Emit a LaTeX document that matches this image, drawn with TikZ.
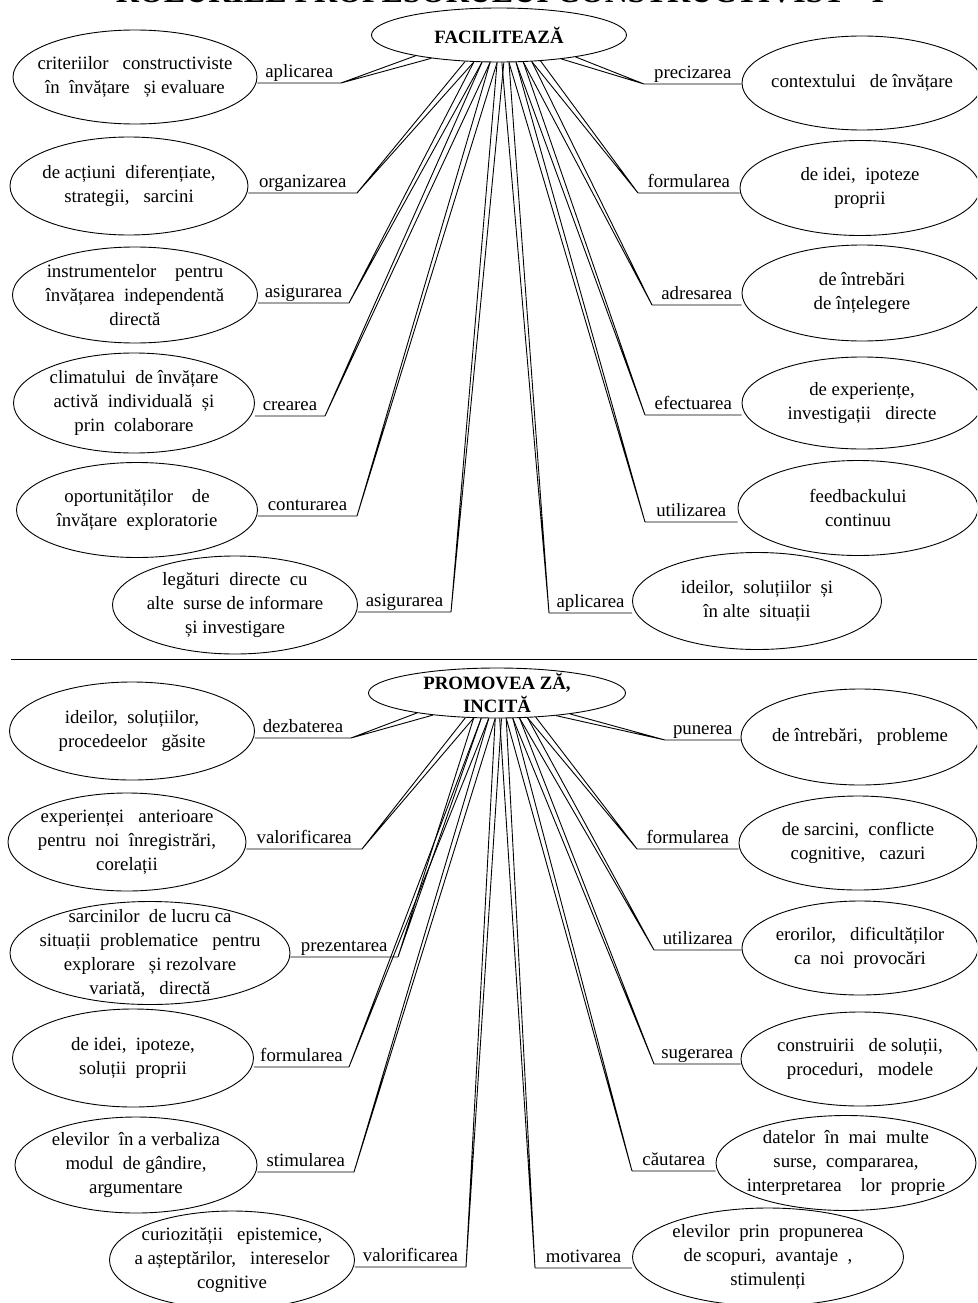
\documentclass[tikz,border=0pt]{standalone}
\usepackage{fontspec}
\setmainfont{Liberation Serif}
\usetikzlibrary{shapes.geometric}
\tikzset{
  leaf/.style={draw, ellipse, line width=0.9pt, inner xsep=-60pt, inner ysep=-40pt,
               align=center, font=\fontsize{18.8pt}{24pt}\selectfont},
  hub/.style={draw, ellipse, line width=0.9pt, inner xsep=-60pt, inner ysep=-40pt,
              align=center, font=\bfseries\fontsize{18.8pt}{23pt}\selectfont},
  lbl/.style={above, inner sep=1.5pt, text depth=4pt, font=\fontsize{18.8pt}{24pt}\selectfont},
  conn/.style={line width=0.9pt}
}

\begin{document}
\begin{tikzpicture}[x=1pt, y=-1pt]
    \useasboundingbox (0,0) rectangle (977,1303);
    \clip (0,0) rectangle (977,1303);
    \node[anchor=base, font=\bfseries\fontsize{32pt}{32pt}\selectfont] (title) at (500,3)
         {ROLURILE PROFESORULUI CONSTRUCTIVIST - I};

    \node[hub, minimum width=255pt, minimum height=54pt] (fac) at (499,35) {FACILITEAZĂ};
    \node[hub, minimum width=257pt, minimum height=50pt] (pro) at (497,693) {PROMOVEA ZĂ,\\ INCITĂ};

    \node[leaf, minimum width=244pt, minimum height=94pt] (l1) at (135,77)
         {criteriilor~~~constructiviste\\ în~~învățare~~~și evaluare};
    \node[leaf, minimum width=238pt, minimum height=98pt] (l2) at (129,186)
         {de acțiuni~~diferențiate,\\ strategii,~~~sarcini};
    \node[leaf, minimum width=245pt, minimum height=96pt] (l3) at (135,295)
         {instrumentelor~~~~pentru\\ învățarea~~independentă\\ directă};
    \node[leaf, minimum width=241pt, minimum height=100pt] (l4) at (134,403)
         {climatului~~de învățare\\ activă~~individuală~~și\\ prin~~colaborare};
    \node[leaf, minimum width=241pt, minimum height=95pt] (l5) at (137,510)
         {oportunităților~~~~de\\ învățare~~exploratorie};
    \node[leaf, minimum width=245pt, minimum height=98pt] (l6) at (235,605)
         {legături~~directe~~cu\\ alte~~surse de informare\\ și investigare};

    \node[leaf, minimum width=240pt, minimum height=94pt] (r1) at (862,83)
         {contextului~~~de învățare};
    \node[leaf, minimum width=240pt, minimum height=95pt] (r2) at (860,188)
         {de idei,~~ipoteze\\ proprii};
    \node[leaf, minimum width=240pt, minimum height=96pt] (r3) at (862,293)
         {de întrebări\\ de înțelegere};
    \node[leaf, minimum width=240pt, minimum height=92pt] (r4) at (862,403)
         {de experiențe,\\ investigații~~~directe};
    \node[leaf, minimum width=240pt, minimum height=95pt] (r5) at (858,508)
         {feedbackului\\ continuu};
    \node[leaf, minimum width=249pt, minimum height=97pt] (r6) at (757,601)
         {ideilor,~~soluțiilor~~și\\ în alte~~situații};

    \node[leaf, minimum width=245pt, minimum height=98pt] (ll1) at (132,731)
         {ideilor,~~soluțiilor,\\ procedeelor~~~găsite};
    \node[leaf, minimum width=238pt, minimum height=98pt] (ll2) at (127,842)
         {experienței~~~anterioare\\ pentru~~noi~~înregistrări,\\ corelații};
    \node[leaf, minimum width=280pt, minimum height=103pt] (ll3) at (150,953)
         {sarcinilor~~de lucru ca\\ situații~~problematice~~~pentru\\ explorare~~~și rezolvare\\ variată,~~~directă};
    \node[leaf, minimum width=241pt, minimum height=98pt] (ll4) at (133,1058)
         {de idei,~~ipoteze,\\ soluții~~proprii};
    \node[leaf, minimum width=242pt, minimum height=96pt] (ll5) at (136,1165)
         {elevilor~~în a verbaliza\\ modul~~de gândire,\\ argumentare};
    \node[leaf, minimum width=245pt, minimum height=98pt] (ll6) at (232,1260)
         {curiozității~~~epistemice,\\ a așteptărilor,~~~intereselor\\ cognitive};

    \node[leaf, minimum width=238pt, minimum height=96pt] (rr1) at (860,737)
         {de întrebări,~~~probleme};
    \node[leaf, minimum width=238pt, minimum height=94pt] (rr2) at (858,843)
         {de sarcini,~~conflicte\\ cognitive,~~~cazuri};
    \node[leaf, minimum width=236pt, minimum height=94pt] (rr3) at (860,948)
         {erorilor,~~~dificultăților\\ ca~~noi~~provocări};
    \node[leaf, minimum width=238pt, minimum height=94pt] (rr4) at (860,1059)
         {construirii~~~de soluții,\\ proceduri,~~~modele};
    \node[leaf, minimum width=260pt, minimum height=95pt] (rr5) at (846,1163)
         {datelor~~în~~mai~~multe\\ surse,~~compararea,\\ interpretarea~~~~lor~~proprie};
    \node[leaf, minimum width=271pt, minimum height=98pt] (rr6) at (768,1257)
         {elevilor~~prin~~propunerea\\ de scopuri,~~avantaje~~,\\ stimulenți};

    \coordinate (k1) at (341,83);   \coordinate (k2) at (357,193);
    \coordinate (k3) at (349,303);  \coordinate (k4) at (325,416);
    \coordinate (k5) at (357,516);  \coordinate (k6) at (451,612);
    \coordinate (k7) at (644,84);   \coordinate (k8) at (638,193);
    \coordinate (k9) at (652,305);  \coordinate (k10) at (645,415);
    \coordinate (k11) at (645,522); \coordinate (k12) at (549,613);
    \coordinate (k13) at (351,738); \coordinate (k14) at (362,849);
    \coordinate (k15) at (398,957); \coordinate (k16) at (349,1067);
    \coordinate (k17) at (354,1172);\coordinate (k18) at (466,1267);
    \coordinate (k19) at (665,740); \coordinate (k20) at (637,849);
    \coordinate (k21) at (654,950); \coordinate (k22) at (654,1064);
    \coordinate (k23) at (632,1171);\coordinate (k24) at (535,1268);

    \foreach \hub/\a/\b/\knee/\leaf/\side/\txt in {
        fac/194/199/k1/l1/east/aplicarea, fac/218/227/k2/l2/east/organizarea,
        fac/227/238/k3/l3/east/asigurarea, fac/238/252/k4/l4/east/crearea,
        fac/252/266/k5/l5/east/conturarea, fac/266/280/k6/l6/east/asigurarea,
        fac/339/344/k7/r1/west/precizarea, fac/321/328/k8/r2/west/formularea,
        fac/312/321/k9/r3/west/adresarea, fac/302/312/k10/r4/west/efectuarea,
        fac/290/302/k11/r5/west/utilizarea, fac/276/290/k12/r6/west/aplicarea,
        pro/194/199/k13/ll1/east/dezbaterea, pro/218/227/k14/ll2/east/valorificarea,
        pro/227/238/k15/ll3/east/prezentarea, pro/238/252/k16/ll4/east/formularea,
        pro/252/266/k17/ll5/east/stimularea, pro/266/280/k18/ll6/east/valorificarea,
        pro/339/344/k19/rr1/west/punerea, pro/321/328/k20/rr2/west/formularea,
        pro/312/321/k21/rr3/west/utilizarea, pro/302/312/k22/rr4/west/sugerarea,
        pro/290/302/k23/rr5/west/căutarea, pro/276/290/k24/rr6/west/motivarea}
      \draw[conn] (\hub.\a) -- (\knee) -- (\hub.\b)
                  (\knee) -- node[lbl] (t\knee) {\txt} (\knee -| \leaf.\side);

    \draw[conn] (11,659) -- (977,659);
  \end{tikzpicture}
\end{document}
